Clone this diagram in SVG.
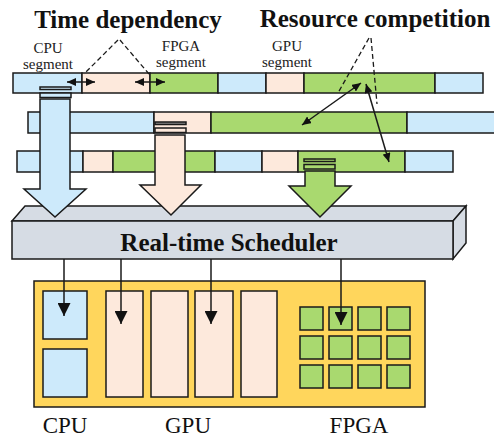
<svg xmlns="http://www.w3.org/2000/svg" width="494" height="438" viewBox="0 0 494 438">
  <style>
    .seg { stroke: #1a1a1a; stroke-width: 1.5; }
    .cpu { fill: #cdeafb; }
    .gpu { fill: #fde9dc; }
    .fpga { fill: #a9d96f; }
    .edge { stroke: #1a1a1a; stroke-width: 1.5; fill: none; }
    .dash { stroke: #1a1a1a; stroke-width: 1.3; fill: none; stroke-dasharray: 5 3; }
    text { font-family: 'Liberation Serif', 'Times New Roman', 'DejaVu Serif', serif; }
    .title { font-weight: bold; font-size: 25px; fill: #111; }
    .small { font-size: 15px; fill: #222; }
    .label { font-size: 23px; fill: #111; }
  </style>
  <defs>
    <marker id="headBig" viewBox="0 0 10 10" refX="10" refY="5" markerWidth="13" markerHeight="13" markerUnits="userSpaceOnUse" orient="auto-start-reverse">
      <path d="M0,0 L10,5 L0,10 z" fill="#111"/>
    </marker>
    <marker id="headSmall" viewBox="0 0 10 10" refX="10" refY="5" markerWidth="9" markerHeight="8" markerUnits="userSpaceOnUse" orient="auto-start-reverse" preserveAspectRatio="none">
      <path d="M0,0 L10,5 L0,10 z" fill="#111"/>
    </marker>
  </defs>

  <!-- Headings -->
  <text class="title" x="128" y="28" text-anchor="middle">Time dependency</text>
  <text class="title" x="375" y="27" text-anchor="middle">Resource competition</text>
  <text class="small" text-anchor="middle"><tspan x="48" y="53">CPU</tspan><tspan x="48" y="69">segment</tspan></text>
  <text class="small" text-anchor="middle"><tspan x="181" y="51">FPGA</tspan><tspan x="181" y="67">segment</tspan></text>
  <text class="small" text-anchor="middle"><tspan x="287" y="51">GPU</tspan><tspan x="287" y="67">segment</tspan></text>

  <!-- Task 1 -->
  <g id="task1">
    <rect class="seg cpu" x="13" y="73" width="69" height="20"/>
    <rect class="seg gpu" x="82" y="73" width="68" height="20"/>
    <rect class="seg fpga" x="150" y="73" width="68" height="20"/>
    <rect class="seg cpu" x="218" y="73" width="48" height="20"/>
    <rect class="seg gpu" x="266" y="73" width="38" height="20"/>
    <rect class="seg fpga" x="304" y="73" width="131" height="20"/>
    <rect class="seg cpu" x="435" y="73" width="48" height="20"/>
  </g>

  <!-- Task 2 -->
  <g id="task2">
    <rect class="seg cpu" x="28" y="112" width="126" height="21"/>
    <rect class="seg gpu" x="154" y="112" width="57" height="21"/>
    <rect class="seg fpga" x="211" y="112" width="196" height="21"/>
    <rect class="seg cpu" x="407" y="112" width="92" height="21"/>
  </g>

  <!-- Task 3 -->
  <g id="task3">
    <rect class="seg cpu" x="17" y="151" width="66" height="21"/>
    <rect class="seg gpu" x="83" y="151" width="30" height="21"/>
    <rect class="seg fpga" x="113" y="151" width="102" height="21"/>
    <rect class="seg cpu" x="215" y="151" width="47" height="21"/>
    <rect class="seg gpu" x="262" y="151" width="36" height="21"/>
    <rect class="seg fpga" x="298" y="151" width="107" height="21"/>
    <rect class="seg cpu" x="405" y="151" width="48" height="21"/>
  </g>

  <!-- Scheduler block -->
  <g id="scheduler">
    <polygon class="seg" fill="#d6dce4" points="12,221 25,206 466,206 453,221"/>
    <polygon class="seg" fill="#d6dce4" points="453,221 466,206 466,243 453,259"/>
    <rect class="seg" fill="#d6dce4" x="12" y="221" width="441" height="38"/>
    <text class="title" x="229" y="251" text-anchor="middle">Real-time Scheduler</text>
  </g>

  <!-- Dispatch arrows into the scheduler -->
  <g id="dispatch-cpu">
    <rect class="seg cpu" x="40" y="87" width="31" height="2.5"/>
    <rect class="seg cpu" x="40" y="93" width="31" height="4.5"/>
    <polygon class="seg cpu" points="40,99 70,99 70,189 86,189 55,217 24,189 40,189"/>
  </g>
  <g id="dispatch-gpu">
    <rect class="seg" fill="#8a8a8a" x="155" y="122" width="31" height="2.5"/>
    <rect class="seg gpu" x="155" y="128" width="31" height="4.5"/>
    <polygon class="seg gpu" points="155,135 185,135 185,185 201,185 171,215 140,185 155,185"/>
  </g>
  <g id="dispatch-fpga">
    <rect class="seg fpga" x="304" y="159" width="31" height="2.5"/>
    <rect class="seg fpga" x="304" y="164.5" width="31" height="4.5"/>
    <polygon class="seg fpga" points="305,171 335,171 335,186 351,186 320,217 289,186 305,186"/>
  </g>

  <!-- Hardware platform -->
  <g id="platform">
    <rect class="seg" fill="#ffd65c" x="34" y="281" width="391" height="126"/>
  </g>
  <g id="cpu-cores">
    <rect class="seg cpu" x="43" y="291" width="44" height="48"/>
    <rect class="seg cpu" x="43" y="349" width="44" height="48"/>
  </g>
  <g id="gpu-units">
    <rect class="seg gpu" x="106" y="291" width="37" height="106"/>
    <rect class="seg gpu" x="151" y="291" width="37" height="106"/>
    <rect class="seg gpu" x="195" y="291" width="38" height="106"/>
    <rect class="seg gpu" x="241" y="291" width="36" height="106"/>
  </g>
  <g id="fpga-fabric">
    <rect class="seg fpga" x="300" y="307" width="23" height="23"/>
    <rect class="seg fpga" x="329" y="307" width="23" height="23"/>
    <rect class="seg fpga" x="358" y="307" width="23" height="23"/>
    <rect class="seg fpga" x="387" y="307" width="23" height="23"/>
    <rect class="seg fpga" x="300" y="336" width="23" height="23"/>
    <rect class="seg fpga" x="329" y="336" width="23" height="23"/>
    <rect class="seg fpga" x="358" y="336" width="23" height="23"/>
    <rect class="seg fpga" x="387" y="336" width="23" height="23"/>
    <rect class="seg fpga" x="300" y="365" width="23" height="23"/>
    <rect class="seg fpga" x="329" y="365" width="23" height="23"/>
    <rect class="seg fpga" x="358" y="365" width="23" height="23"/>
    <rect class="seg fpga" x="387" y="365" width="23" height="23"/>
  </g>

  <text class="label" x="65" y="433" text-anchor="middle">CPU</text>
  <text class="label" x="188" y="433" text-anchor="middle">GPU</text>
  <text class="label" x="359" y="433" text-anchor="middle">FPGA</text>

  <!-- Connectors -->
  <g id="connectors">
    <line class="dash" x1="118" y1="40" x2="84" y2="74"/>
    <line class="dash" x1="120" y1="40" x2="149" y2="74"/>
    <line class="edge" x1="67" y1="82" x2="95" y2="82" marker-start="url(#headSmall)" marker-end="url(#headSmall)"/>
    <line class="edge" x1="135" y1="82" x2="165" y2="82" marker-start="url(#headSmall)" marker-end="url(#headSmall)"/>

    <line class="dash" x1="369" y1="38" x2="338" y2="93"/>
    <line class="dash" x1="371" y1="38" x2="377" y2="104"/>
    <line class="edge" x1="361" y1="83" x2="302" y2="125" marker-start="url(#headSmall)" marker-end="url(#headSmall)"/>
    <line class="edge" x1="366" y1="84" x2="389" y2="162" marker-start="url(#headSmall)" marker-end="url(#headSmall)"/>

    <line class="edge" x1="64" y1="259" x2="64" y2="316" marker-end="url(#headBig)"/>
    <line class="edge" x1="121" y1="259" x2="121" y2="324" marker-end="url(#headBig)"/>
    <line class="edge" x1="211" y1="259" x2="211" y2="324" marker-end="url(#headBig)"/>
    <line class="edge" x1="341" y1="259" x2="341" y2="325" marker-end="url(#headBig)"/>
  </g>
</svg>
